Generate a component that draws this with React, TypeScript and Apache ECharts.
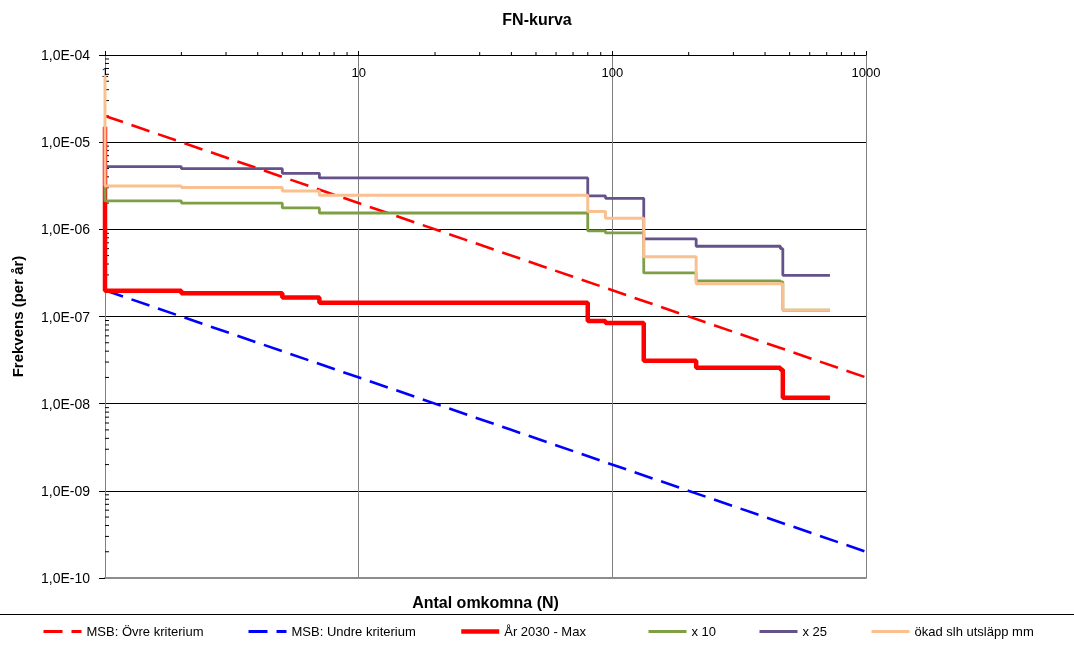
import React, { useEffect, useRef } from 'react';
import * as echarts from 'echarts';

const chartTitle = 'FN-kurva';
const xName = 'Antal omkomna (N)';
const yName = 'Frekvens (per år)';

const seriesNames = [
  'MSB: Övre kriterium',
  'MSB: Undre kriterium',
  'År 2030 - Max',
  'x 10',
  'x 25',
  'ökad slh utsläpp mm',
];

// criteria lines (N, F)
const critN = [1, 1000];
const upperF = [2e-5, 2e-8];
const lowerF = [2e-7, 2e-10];

// step curves: value F holds from stepN[i] to the next step
const stepN = [1, 2, 5, 7, 80, 94, 133, 214, 460, 470];
const endN = 721;
const redStart = 1.5e-5;
const redMax = [1.98e-7, 1.85e-7, 1.65e-7, 1.44e-7, 8.9e-8, 8.4e-8, 3.1e-8, 2.58e-8, 2.45e-8, 1.17e-8];
const greenStart = 3.1e-6;
const x10 = [2.12e-6, 2.0e-6, 1.76e-6, 1.54e-6, 9.6e-7, 9.1e-7, 3.16e-7, 2.56e-7, 2.5e-7, 1.18e-7];
const purpleStart = 5.24e-6;
const x25 = [5.24e-6, 4.97e-6, 4.39e-6, 3.89e-6, 2.42e-6, 2.27e-6, 7.76e-7, 6.4e-7, 6.0e-7, 2.97e-7];
const orangeStart = 5.9e-5;
const okad = [3.15e-6, 3.02e-6, 2.76e-6, 2.46e-6, 1.6e-6, 1.34e-6, 4.86e-7, 2.38e-7, 2.36e-7, 1.18e-7];

// minor tick positions
const minorMult = [2, 3, 4, 5, 6, 7, 8, 9];
const xDecades = [1, 10, 100];
const yDecades = [1e-10, 1e-9, 1e-8, 1e-7, 1e-6, 1e-5];

const legendLefts = [42, 247, 459, 647, 758, 870];
const legendWidths = [3, 3, 4.5, 3, 3, 3];

function buildStep(start: number, vals: number[]) {
  const pts: number[][] = [[stepN[0], start]];
  stepN.forEach((n, i) => pts.push([n, vals[i]]));
  pts.push([endN, vals[vals.length - 1]]);
  return pts;
}

export default function App() {
  const ref = useRef<HTMLDivElement>(null);
  useEffect(() => {
    if (!ref.current) return;
    const chart = echarts.init(ref.current, undefined, { renderer: 'svg' });
    const font = 'Liberation Sans, Arial, sans-serif';
    const xMinor: number[][] = [];
    xDecades.forEach((d) => minorMult.forEach((m) => xMinor.push([d * m, 1e-4])));
    const yMinor: number[][] = [];
    yDecades.forEach((d) => minorMult.forEach((m) => yMinor.push([1, d * m])));

    const lineSeries = (name: string, data: number[][], color: string, width: number, type: any, step?: any) => ({
      type: 'line',
      name,
      data,
      step,
      showSymbol: false,
      symbol: 'none',
      lineStyle: { color, width, type },
      itemStyle: { color },
      xAxisIndex: 0,
      yAxisIndex: 0,
    });

    chart.setOption({
      animation: false,
      textStyle: { fontFamily: font },
      title: {
        text: chartTitle,
        left: 'center',
        top: 6,
        textStyle: { fontSize: 16, fontWeight: 'bold', color: '#000', fontFamily: font },
      },
      grid: { left: 105, top: 55, width: 761, height: 523, outerBoundsMode: 'none', containLabel: false },
      xAxis: [
        {
          type: 'log',
          logBase: 10,
          min: 1,
          max: 1000,
          position: 'top',
          axisLine: { show: true, onZero: false, lineStyle: { color: '#000', width: 1 } },
          axisTick: { show: true, inside: false, length: 4, lineStyle: { color: '#000' } },
          axisLabel: {
            inside: true,
            margin: 11,
            fontSize: 13,
            color: '#000',
            formatter: (v: number) => String(Math.round(v)),
          },
          splitLine: { show: true, lineStyle: { color: '#808080', width: 1 } },
        },
        {
          type: 'log',
          logBase: 10,
          min: 1,
          max: 1000,
          position: 'bottom',
          axisLine: { show: true, onZero: false, lineStyle: { color: '#8c8c8c', width: 2 } },
          axisTick: { show: false },
          axisLabel: { show: false },
          splitLine: { show: false },
          name: xName,
          nameLocation: 'middle',
          nameGap: 16,
          nameTextStyle: { fontSize: 16, fontWeight: 'bold', color: '#000', fontFamily: font },
        },
      ],
      yAxis: {
        type: 'log',
        logBase: 10,
        min: 1e-10,
        max: 1e-4,
        axisLine: { show: true, onZero: false, lineStyle: { color: '#808080', width: 1 } },
        axisTick: { show: true, length: 6, lineStyle: { color: '#000' } },
        axisLabel: {
          margin: 15,
          fontSize: 14,
          color: '#000',
          formatter: (v: number) => {
            const e = -Math.round(Math.log10(v));
            return '1,0E-' + String(e).padStart(2, '0');
          },
        },
        splitLine: { show: true, showMinLine: false, lineStyle: { color: '#000', width: 1 } },
        name: yName,
        nameLocation: 'middle',
        nameGap: 80,
        nameTextStyle: { fontSize: 15, fontWeight: 'bold', color: '#000', fontFamily: font },
      },
      legend: seriesNames.map((n, i) => ({
        data: [n],
        left: legendLefts[i],
        top: 625,
        padding: 0,
        itemWidth: 38,
        itemHeight: 14,
        itemStyle: { opacity: 0 },
        lineStyle: { width: legendWidths[i] },
        textStyle: { fontSize: 13, color: '#000', fontFamily: font },
      })),
      graphic: [
        {
          type: 'line',
          shape: { x1: 0, y1: 614.5, x2: 1074, y2: 614.5 },
          style: { stroke: '#000', lineWidth: 1 },
          silent: true,
        },
      ],
      series: [
        lineSeries(seriesNames[0], critN.map((n, i) => [n, upperF[i]]), '#FF0000', 2.6, [19, 9]),
        lineSeries(seriesNames[1], critN.map((n, i) => [n, lowerF[i]]), '#0000FF', 2.6, [19, 9]),
        lineSeries(seriesNames[2], buildStep(redStart, redMax), '#FF0000', 4.5, 'solid', 'end'),
        lineSeries(seriesNames[3], buildStep(greenStart, x10), '#7F9F45', 2.8, 'solid', 'end'),
        lineSeries(seriesNames[4], buildStep(purpleStart, x25), '#66528A', 2.8, 'solid', 'end'),
        lineSeries(seriesNames[5], buildStep(orangeStart, okad), '#FAC08F', 3, 'solid', 'end'),
        {
          type: 'custom',
          silent: true,
          clip: false,
          xAxisIndex: 0,
          yAxisIndex: 0,
          data: xMinor,
          renderItem: (_p: any, api: any) => {
            const pt = api.coord([api.value(0), api.value(1)]);
            return {
              type: 'line',
              shape: { x1: pt[0], y1: pt[1], x2: pt[0], y2: pt[1] - 3 },
              style: { stroke: '#000', lineWidth: 1 },
            };
          },
        },
        {
          type: 'custom',
          silent: true,
          clip: false,
          xAxisIndex: 0,
          yAxisIndex: 0,
          data: yMinor,
          renderItem: (_p: any, api: any) => {
            const pt = api.coord([api.value(0), api.value(1)]);
            return {
              type: 'line',
              shape: { x1: pt[0], y1: pt[1], x2: pt[0] + 4, y2: pt[1] },
              style: { stroke: '#000', lineWidth: 1 },
            };
          },
        },
      ],
    });
    return () => chart.dispose();
  }, []);
  return <div ref={ref} style={{ position: 'fixed', left: 0, top: 0, width: 1074, height: 648 }} />;
}
